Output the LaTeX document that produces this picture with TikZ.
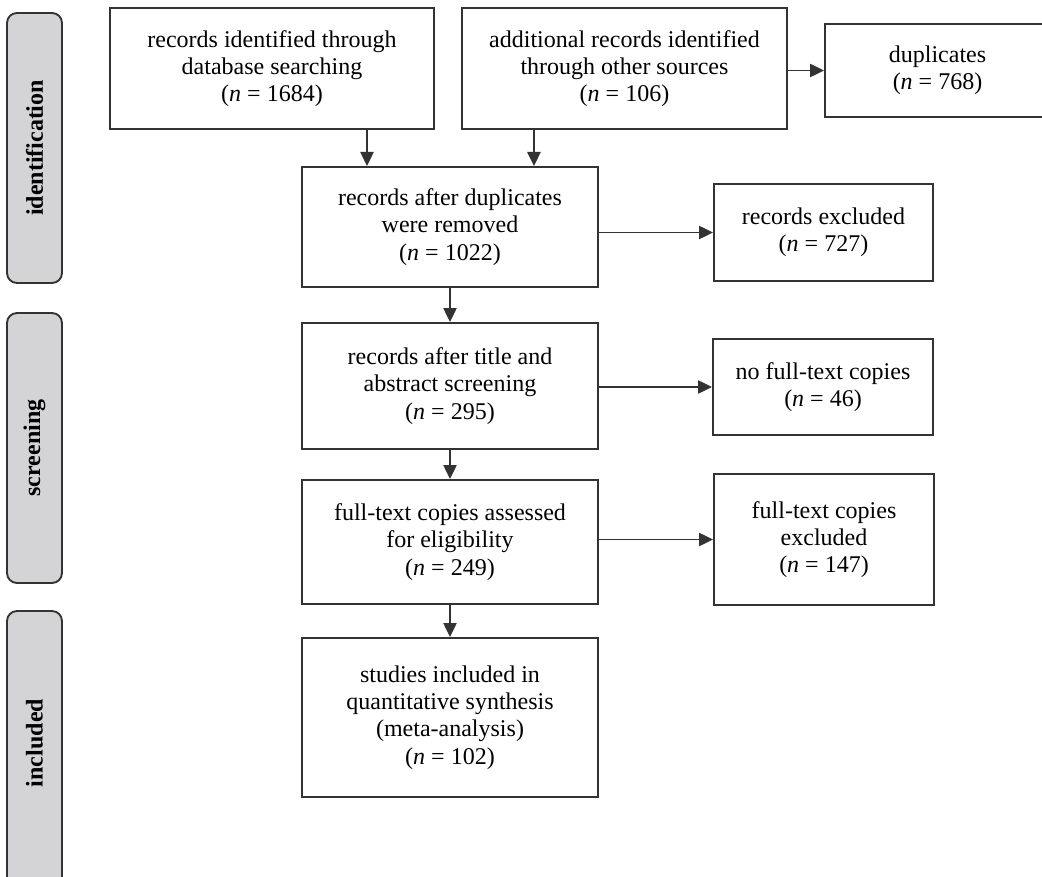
\documentclass[tikz,border=0pt]{standalone}
\usepackage{fontspec}
\setmainfont{Liberation Serif}
\usetikzlibrary{arrows.meta,calc}
\definecolor{linec}{HTML}{333333}
\definecolor{sidefill}{HTML}{D4D4D6}
\begin{document}
\begin{tikzpicture}[x=0.75pt,y=-0.75pt,
  flowbox/.style={draw=linec,line width=1.5pt,fill=white,align=center,inner sep=0pt,
    font=\fontsize{18}{20.5}\selectfont},
  sidebox/.style={draw=linec,line width=1.4pt,fill=sidefill,rounded corners=7.5pt,
    minimum width=41.25pt,inner sep=0pt},
  sidelabel/.style={rotate=90,font=\fontsize{18}{20.5}\selectfont\bfseries},
  arr/.style={draw=linec,line width=1pt,-{Triangle[length=10.5pt,width=10pt]}}]
\useasboundingbox (0,0) rectangle (1042,877);
\clip (0,0) rectangle (1042,877);
% side phase boxes
\node[sidebox,minimum height=202.5pt] (sid) at (34.5,148) {};
\node[sidelabel] (lid) at (sid.center) {identification};
\node[sidebox,minimum height=202.5pt] (sscr) at (34.5,448) {};
\node[sidelabel] (lscr) at (sscr.center) {screening};
\node[sidebox,minimum height=210pt] (sinc) at (34.5,751) {};
\node[sidelabel] (linc) at (34.5,743) {included};
% flow boxes
\node[flowbox,minimum width=243pt,minimum height=90.75pt] (b1) at (272,68.5)
  {records identified through\\database searching\\(\textit{n} = 1684)};
\node[flowbox,minimum width=243.75pt,minimum height=90.75pt] (b2) at (624.5,68.5)
  {additional records identified\\through other sources\\(\textit{n} = 106)};
\node[flowbox,minimum width=168.75pt,minimum height=69.75pt] (dup) at (937.5,70.5)
  {duplicates\\(\textit{n} = 768)};
\node[flowbox,minimum width=222pt,minimum height=90pt] (b3) at (450,227)
  {records after duplicates\\were removed\\(\textit{n} = 1022)};
\node[flowbox,minimum width=164.25pt,minimum height=72.75pt] (rex) at (823.5,232.5)
  {records excluded\\(\textit{n} = 727)};
\node[flowbox,minimum width=222pt,minimum height=94.5pt] (b4) at (450,386)
  {records after title and\\abstract screening\\(\textit{n} = 295)};
\node[flowbox,minimum width=165pt,minimum height=72pt] (nft) at (823,387)
  {no full-text copies\\(\textit{n} = 46)};
\node[flowbox,minimum width=222pt,minimum height=93pt] (b5) at (450,542)
  {full-text copies assessed\\for eligibility\\(\textit{n} = 249)};
\node[flowbox,minimum width=165pt,minimum height=98.25pt] (fex) at (824,539.5)
  {full-text copies\\excluded\\(\textit{n} = 147)};
\node[flowbox,minimum width=222pt,minimum height=119.25pt] (b6) at (450,717.5)
  {studies included in\\quantitative synthesis\\(meta-analysis)\\(\textit{n} = 102)};
% connectors
\coordinate (a1) at ([xshift=71.25pt]b1.south);
\coordinate (a2) at ([xshift=-67.9pt]b2.south);
\draw[arr] (a1) -- (a1 |- b3.north);
\draw[arr] (a2) -- (a2 |- b3.north);
\draw[arr] (b2.east |- dup.west) -- (dup.west);
\draw[arr] (b3.east |- rex.west) -- (rex.west);
\draw[arr] (b3) -- (b4);
\draw[arr] (b4.east |- nft.west) -- (nft.west);
\draw[arr] (b4) -- (b5);
\draw[arr] (b5.east |- fex.west) -- (fex.west);
\draw[arr] (b5) -- (b6);
\end{tikzpicture}
\end{document}
